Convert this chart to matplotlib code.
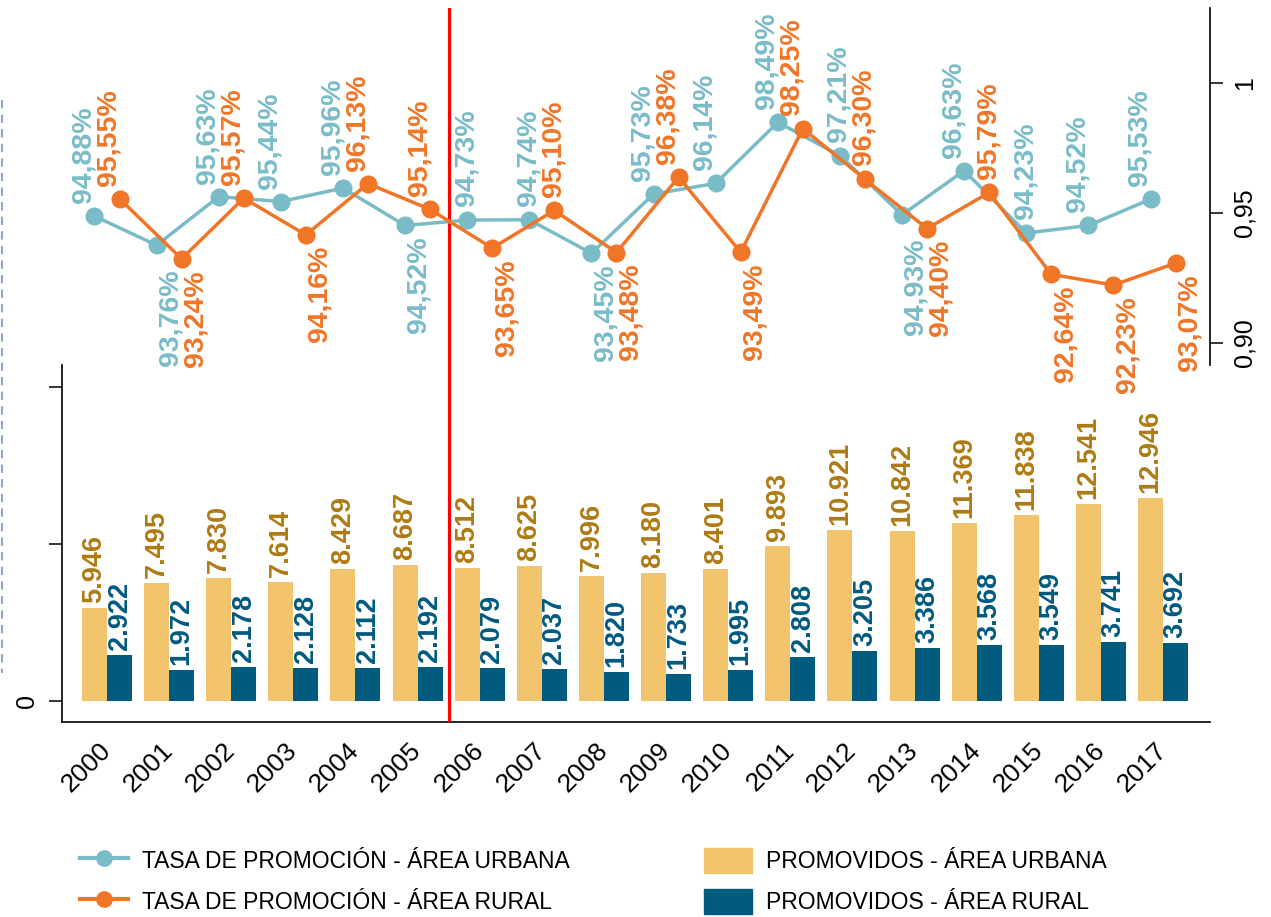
import numpy as np
import matplotlib.pyplot as plt
from matplotlib.lines import Line2D
from matplotlib.patches import Patch

plt.rcParams['font.family'] = ['Liberation Sans', 'DejaVu Sans']

# data
years = [str(y) for y in range(2000, 2018)]
prom_urbana = [5946, 7495, 7830, 7614, 8429, 8687, 8512, 8625, 7996, 8180,
               8401, 9893, 10921, 10842, 11369, 11838, 12541, 12946]
prom_rural = [2922, 1972, 2178, 2128, 2112, 2192, 2079, 2037, 1820, 1733,
              1995, 2808, 3205, 3386, 3568, 3549, 3741, 3692]
tasa_urbana = [94.88, 93.76, 95.63, 95.44, 95.96, 94.52, 94.73, 94.74, 93.45,
               95.73, 96.14, 98.49, 97.21, 94.93, 96.63, 94.23, 94.52, 95.53]
tasa_rural = [95.55, 93.24, 95.57, 94.16, 96.13, 95.14, 93.65, 95.10, 93.48,
              96.38, 93.49, 98.25, 96.30, 94.40, 95.79, 92.64, 92.23, 93.07]

# where each rate label sits: a above, r above-right, b below, B further below
lab_urbana = 'aBaaabrrbaaarBaraa'
lab_rural = 'ababaabrbabarbrbbb'

c_bar_urb = '#F2C46D'
c_bar_rur = '#005B7F'
c_txt_urb = '#AE7A14'
c_txt_rur = '#005A80'
c_line_urb = '#79BCC8'
c_line_rur = '#F07527'

W, H = 1271, 917
fig = plt.figure(figsize=(W / 100, H / 100), dpi=100)
ax = fig.add_axes([62 / W, 195 / H, 1148 / W, 714 / H])
ax2 = ax.twinx()

x = np.arange(len(years))
bw = 0.4025
xu = x - bw / 2
xr = x + bw / 2

# bars
ax.bar(xu, prom_urbana, bw, color=c_bar_urb)
ax.bar(xr, prom_rural, bw, color=c_bar_rur)
for xi, v in zip(xu, prom_urbana):
    ax.annotate(f'{v:,}'.replace(',', '.'), (xi, v), xytext=(0, 3.6),
                textcoords='offset points', rotation=90, ha='center', va='bottom',
                fontsize=19.5, fontweight='bold', color=c_txt_urb)
for xi, v in zip(xr, prom_rural):
    ax.annotate(f'{v:,}'.replace(',', '.'), (xi, v), xytext=(0, 3.6),
                textcoords='offset points', rotation=90, ha='center', va='bottom',
                fontsize=19.5, fontweight='bold', color=c_txt_rur)

ax.set_xlim(-0.7244, 17.756)
ax.set_ylim(-1339, 44196)
ax.set_yticks([0, 10000, 20000])
ax.set_yticklabels(['0', '', ''])
ax.spines['top'].set_visible(False)
ax.spines['right'].set_visible(False)
ax.spines['left'].set_bounds(-1339, 21429)
ax.spines['left'].set_linewidth(1.2)
ax.spines['bottom'].set_linewidth(1.2)
ax.tick_params(axis='y', length=9.4, width=1.1, pad=7, labelsize=18, labelrotation=90)
for lbl in ax.get_yticklabels():
    lbl.set_va('center')
ax.set_xticks(x)
ax.set_xticklabels(years, rotation=45, ha='right', rotation_mode='anchor', va='center')
ax.tick_params(axis='x', length=0, pad=18, labelsize=19)

ax.axvline(5.5, color='#FF0000', lw=2.3, zorder=5)

# lines
ax2.plot(xu, np.array(tasa_urbana) / 100, color=c_line_urb, lw=2.5, marker='o', ms=12, zorder=3)
ax2.plot(xr, np.array(tasa_rural) / 100, color=c_line_rur, lw=2.5, marker='o', ms=12, zorder=4)

offs = {'a': (-7.9, 9.4, 'bottom'), 'r': (-0.7, 10, 'bottom'),
        'b': (10, -8, 'top'), 'B': (10, -17.3, 'top')}
for xs, vals, pos, col in [(xu, tasa_urbana, lab_urbana, c_line_urb),
                           (xr, tasa_rural, lab_rural, c_line_rur)]:
    for xi, v, p in zip(xs, vals, pos):
        dx, dy, va = offs[p]
        ax2.annotate(f'{v:.2f}%'.replace('.', ','), (xi, v / 100), xytext=(dx, dy),
                     textcoords='offset points', rotation=90, ha='center', va=va,
                     fontsize=20.5, fontweight='bold', color=col)

ax2.set_ylim(0.75423, 1.02885)
ax2.set_yticks([0.90, 0.95, 1.0])
ax2.set_yticklabels(['0,90', '0,95', '1'])
for s in ['top', 'left', 'bottom']:
    ax2.spines[s].set_visible(False)
ax2.spines['right'].set_bounds(0.89154, 1.02885)
ax2.spines['right'].set_linewidth(1.2)
ax2.tick_params(axis='y', length=9.4, width=1.1, pad=7, labelsize=18, labelrotation=90)
for lbl in ax2.get_yticklabels():
    lbl.set_va('center')

# legends
leg_kw = dict(loc='upper left', frameon=False, fontsize=16.5, handlelength=2.1,
              handleheight=1.3, handletextpad=0.6, labelspacing=0.67,
              borderpad=0, borderaxespad=0)
fig.legend(handles=[Line2D([], [], color=c_line_urb, lw=3, marker='o', ms=11),
                    Line2D([], [], color=c_line_rur, lw=3, marker='o', ms=11)],
           labels=['TASA DE PROMOCIÓN - ÁREA URBANA', 'TASA DE PROMOCIÓN - ÁREA RURAL'],
           bbox_to_anchor=(80 / W, 1 - 848 / H), **leg_kw)
fig.legend(handles=[Patch(color=c_bar_urb), Patch(color=c_bar_rur)],
           labels=['PROMOVIDOS - ÁREA URBANA', 'PROMOVIDOS - ÁREA RURAL'],
           bbox_to_anchor=(704 / W, 1 - 848 / H), **leg_kw)

# dashed mark at the left edge
fig.add_artist(Line2D([1.5 / W] * 2, [1 - 100 / H, 1 - 673 / H], transform=fig.transFigure,
                      color='#8CA6D6', lw=1.5, ls=(0, (4, 3))))

fig.savefig('out.png', dpi=100)
